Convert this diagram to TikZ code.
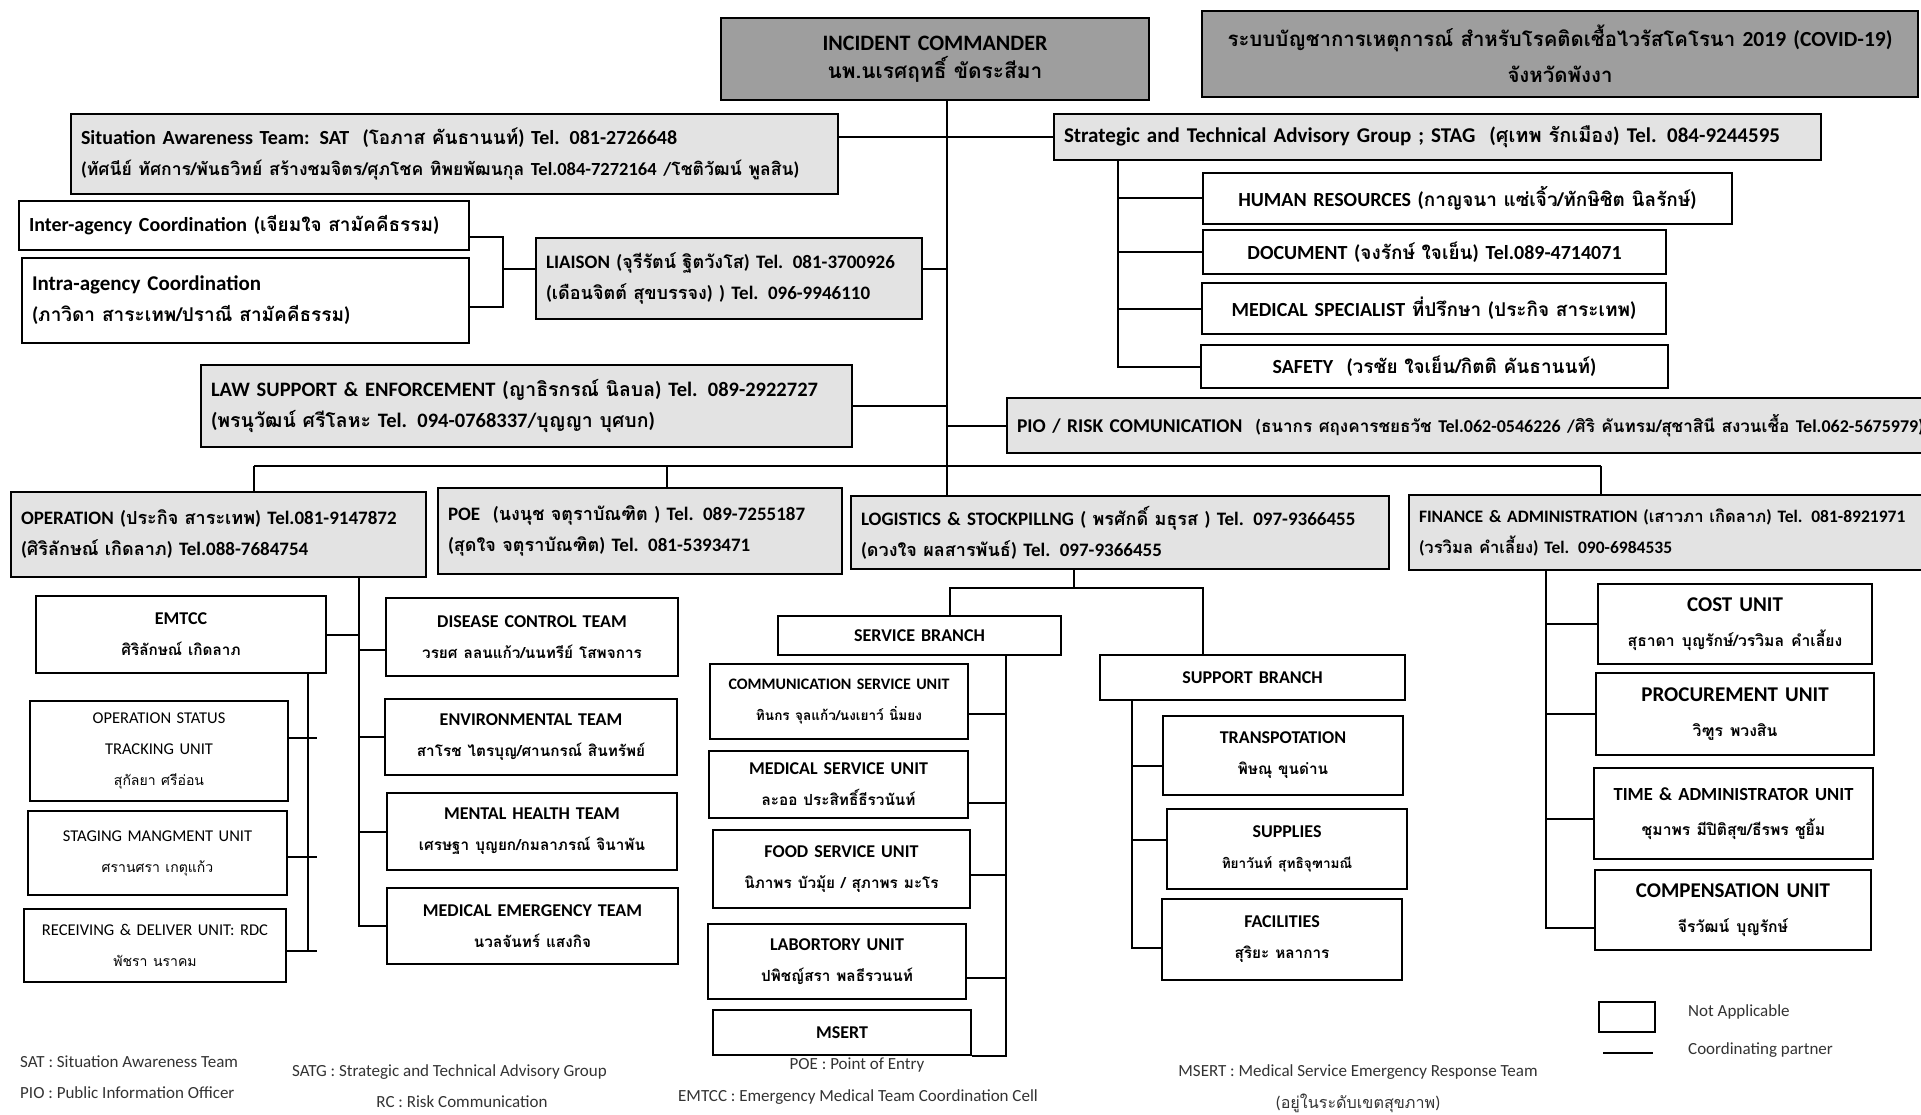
\documentclass[tikz,border=0pt]{standalone}
\usepackage{fontspec}
\setmainfont{Carlito}
\newfontfamily\thaifont[Script=Thai,Scale=0.95]{Loma}
\newfontfamily\thainame[Script=Thai,Scale=0.85]{Loma}
\newcommand{\tha}[1]{{\thaifont #1}}
\newcommand{\thn}[1]{{\thainame #1}}
\usetikzlibrary{calc,positioning}
\tikzset{boxwh/.code 2 args={\pgfmathsetmacro\boxtw{#1-20}\tikzset{minimum width=#1pt,minimum height=#2pt,text width=\boxtw pt}}}
\tikzstyle{orgbox}    = [draw, line width=2pt, anchor=north west, inner xsep=10pt, inner ysep=0pt]
\tikzstyle{headbox}   = [orgbox, fill=black!38, align=center, font=\fontsize{22}{28}\bfseries\selectfont]
\tikzstyle{groupbox}  = [orgbox, fill=black!11, align=left, font=\fontsize{19}{31}\bfseries\selectfont]
\tikzstyle{staffbox}  = [orgbox, fill=white, align=center, font=\fontsize{20}{31}\bfseries\selectfont]
\tikzstyle{unitbox}   = [orgbox, fill=white, align=center, font=\fontsize{18}{31}\bfseries\selectfont]
\tikzstyle{lightbox}  = [orgbox, fill=white, align=center, font=\fontsize{16.5}{31}\selectfont]
\tikzstyle{finbox}    = [orgbox, fill=white, align=center, font=\fontsize{21}{35}\bfseries\selectfont]
\tikzstyle{link}      = [line width=2pt]
\tikzstyle{note}      = [font=\fontsize{17}{22}\selectfont, text=black!80, inner sep=0pt]

\begin{document}
\begin{tikzpicture}[x=1pt,y=-1pt]
        \fill[white] (0,0) rectangle (1921,1115);
        \useasboundingbox (0,0) rectangle (1921,1115);

        \node[headbox,boxwh={428}{82}] (ic) at (720,17) {INCIDENT COMMANDER\\\tha{นพ.นเรศฤทธิ์ ขัดระสีมา}};
        \node[headbox,boxwh={716}{86},font=\fontsize{21.5}{36}\bfseries\selectfont] (title) at (1201,10) {\mbox{\tha{ระบบบัญชาการเหตุการณ์ สำหรับโรคติดเชื้อไวรัสโคโรนา} 2019 (COVID-19)}\\\tha{จังหวัดพังงา}};

        \node[groupbox,boxwh={767}{80},font=\fontsize{20}{31}\bfseries\selectfont] (sat) at (70,113) {Situation Awareness Team: SAT \ (\tha{โอภาส คันธานนท์}) Tel. 081-2726648\\\mbox{\fontsize{18.5}{31}\selectfont(\tha{ทัศนีย์ ทัศการ/พันธวิทย์ สร้างชมจิตร/ศุภโชค ทิพยพัฒนกุล} Tel.084-7272164 /\tha{โชติวัฒน์ พูลสิน})}};
        \node[groupbox,boxwh={767}{46},font=\fontsize{21}{31}\bfseries\selectfont] (stag) at (1053,113) {Strategic and Technical Advisory Group ; STAG \ (\tha{ศุเทพ รักเมือง}) Tel. 084-9244595};

        \node[staffbox,boxwh={529}{51}] (hr) at (1202,172) {HUMAN RESOURCES (\tha{กาญจนา แซ่เจิ้ว/ทักษิชิต นิลรักษ์})};
        \node[staffbox,boxwh={463}{44}] (doc) at (1202,229) {DOCUMENT (\tha{จงรักษ์ ใจเย็น}) Tel.089-4714071};
        \node[staffbox,boxwh={464}{51}] (medsp) at (1201,282) {MEDICAL SPECIALIST \tha{ที่ปรึกษา} (\tha{ประกิจ สาระเทพ})};
        \node[staffbox,boxwh={467}{43}] (safety) at (1200,344) {SAFETY \ (\tha{วรชัย ใจเย็น/กิตติ คันธานนท์})};
        \node[groupbox,boxwh={930}{55},font=\fontsize{19.5}{31}\bfseries\selectfont] (pio) at (1006,397) {\mbox{PIO / RISK COMUNICATION \ {\fontsize{18}{20}\selectfont(\tha{ธนากร ศฤงคารชยธวัช} Tel.062-0546226 /\tha{ศิริ คันทรม/สุชาสินี สงวนเชื้อ} Tel.062-5675979)}}};

        \node[staffbox,align=left,boxwh={450}{49}] (inter) at (18,200) {Inter-agency Coordination (\tha{เจียมใจ สามัคคีธรรม})};
        \node[staffbox,align=left,boxwh={447}{85},font=\fontsize{21}{31}\bfseries\selectfont] (intra) at (21,257) {Intra-agency Coordination\\{\fontsize{20}{31}\selectfont(\tha{ภาวิดา สาระเทพ/ปราณี สามัคคีธรรม})}};
        \node[groupbox,boxwh={386}{81}] (liaison) at (535,237) {\mbox{LIAISON (\tha{จุรีรัตน์ ฐิตวังโส}) Tel. 081-3700926}\\(\tha{เดือนจิตต์ สุขบรรจง}) ) Tel. 096-9946110};
        \node[groupbox,boxwh={651}{82},font=\fontsize{20.5}{31}\bfseries\selectfont] (law) at (200,364) {LAW SUPPORT \& ENFORCEMENT (\tha{ญาธิรกรณ์ นิลบล}) Tel. 089-2922727\\(\tha{พรนุวัฒน์ ศรีโลหะ} Tel. 094-0768337/\tha{บุญญา บุศบก})};

        \node[groupbox,boxwh={415}{85}] (op) at (10,491) {\mbox{OPERATION (\tha{ประกิจ สาระเทพ}) Tel.081-9147872}\\(\tha{ศิริลักษณ์ เกิดลาภ}) Tel.088-7684754};
        \node[groupbox,boxwh={404}{86}] (poe) at (437,487) {\mbox{POE \ (\tha{นงนุช จตุราบัณฑิต} ) Tel. 089-7255187}\\(\tha{สุดใจ จตุราบัณฑิต}) Tel. 081-5393471};
        \node[groupbox,boxwh={538}{73}] (log) at (850,495) {\mbox{LOGISTICS \& STOCKPILLNG ( \tha{พรศักดิ์ มธุรส} ) Tel. 097-9366455}\\(\tha{ดวงใจ ผลสารพันธ์}) Tel. 097-9366455};
        \node[groupbox,boxwh={520}{75},font=\fontsize{17.5}{31}\bfseries\selectfont] (fin) at (1408,494) {\mbox{FINANCE \& ADMINISTRATION (\tha{เสาวภา เกิดลาภ}) Tel. 081-8921971}\\(\tha{วรวิมล คำเลี้ยง}) Tel. 090-6984535};

        \node[unitbox,boxwh={290}{77}] (emtcc) at (35,595) {EMTCC\\\thn{ศิริลักษณ์ เกิดลาภ}};
        \node[lightbox,boxwh={258}{100}] (ost) at (29,700) {OPERATION STATUS\\TRACKING UNIT\\\thn{สุกัลยา ศรีอ่อน}};
        \node[lightbox,boxwh={259}{84}] (staging) at (27,810) {STAGING MANGMENT UNIT\\\thn{ศรานศรา เกตุแก้ว}};
        \node[lightbox,boxwh={262}{73}] (rdc) at (23,908) {RECEIVING \& DELIVER UNIT: RDC\\\thn{พัชรา นราคม}};
        \node[unitbox,boxwh={292}{78}] (dc) at (385,597) {DISEASE CONTROL TEAM\\\thn{วรยศ ลลนแก้ว/นนทรีย์ โสพจการ}};
        \node[unitbox,boxwh={292}{76}] (env) at (384,698) {ENVIRONMENTAL TEAM\\\thn{สาโรช ไตรบุญ/ศานกรณ์ สินทรัพย์}};
        \node[unitbox,boxwh={290}{77}] (mh) at (386,792) {MENTAL HEALTH TEAM\\\thn{เศรษฐา บุญยก/กมลาภรณ์ จินาพัน}};
        \node[unitbox,boxwh={291}{76}] (me) at (386,887) {MEDICAL EMERGENCY TEAM\\\thn{นวลจันทร์ แสงกิจ}};

        \node[unitbox,boxwh={283}{39}] (servb) at (777,615) {SERVICE BRANCH};
        \node[unitbox,boxwh={305}{45}] (supb) at (1099,654) {SUPPORT BRANCH};
        \node[unitbox,boxwh={258}{75},font=\fontsize{16}{31}\bfseries\selectfont] (comm) at (709,663) {COMMUNICATION SERVICE UNIT\\\thn{ทินกร จุลแก้ว/นงเยาว์ นิ่มยง}};
        \node[unitbox,boxwh={259}{67}] (medsu) at (708,750) {MEDICAL SERVICE UNIT\\\thn{ละออ ประสิทธิ์ธีรวนันท์}};
        \node[unitbox,boxwh={257}{78}] (food) at (712,829) {FOOD SERVICE UNIT\\\thn{นิภาพร บัวมุ้ย / สุภาพร มะโร}};
        \node[unitbox,boxwh={258}{75}] (lab) at (707,923) {LABORTORY UNIT\\\thn{ปพิชญ์สรา พลธีรวนนท์}};
        \node[unitbox,boxwh={258}{45}] (msert) at (712,1009) {MSERT};
        \node[unitbox,boxwh={240}{79}] (trans) at (1162,715) {TRANSPOTATION\\\thn{พิษณุ ขุนด่าน}};
        \node[unitbox,boxwh={240}{80}] (supp) at (1166,808) {SUPPLIES\\{\fontsize{16}{31}\selectfont\thn{ทิยาวันท์ สุทธิจุฑามณี}}};
        \node[unitbox,boxwh={240}{81}] (fac) at (1161,898) {FACILITIES\\\thn{สุริยะ หลาการ}};

        \node[finbox,boxwh={274}{80}] (cost) at (1597,583) {COST UNIT\\{\fontsize{18.5}{35}\selectfont\thn{สุธาดา บุญรักษ์/วรวิมล คำเลี้ยง}}};
        \node[finbox,boxwh={278}{82}] (proc) at (1595,672) {PROCUREMENT UNIT\\{\fontsize{18.5}{35}\selectfont\thn{วิฑูร พวงสิน}}};
        \node[finbox,boxwh={279}{91},font=\fontsize{18.5}{35}\bfseries\selectfont] (time) at (1593,767) {TIME \& ADMINISTRATOR UNIT\\\thn{ชุมาพร มีปิติสุข/ธีรพร ชูยิ้ม}};
        \node[finbox,boxwh={276}{80}] (comp) at (1594,869) {COMPENSATION UNIT\\{\fontsize{18.5}{35}\selectfont\thn{จีรวัฒน์ บุญรักษ์}}};

        % command line
        \coordinate (trunk) at (947,0);
        \draw[link] (ic.south -| trunk) -- (log.north -| trunk);
        \draw[link] (sat.east |- stag.west) -- (stag.west);
        \coordinate (lkliaison) at ([yshift=9pt]liaison.east);
        \draw[link] (lkliaison) -- (lkliaison -| trunk);
        \draw[link] (law.east) -- (law.east -| trunk);
        \draw[link] (pio.west) -- (pio.west -| trunk);

        \coordinate (brk) at (503,0);
        \coordinate (lkinter) at ([yshift=-12pt]inter.east);
        \coordinate (lkintra) at ([yshift=-6pt]intra.east);
        \coordinate (lkliaisonw) at ([yshift=9pt]liaison.west);
        \draw[link] (lkinter) -| (lkintra -| brk) -- (lkintra);
        \draw[link] (lkliaisonw -| brk) -- (lkliaisonw);

        \coordinate (sv) at (1118,0);
        \draw[link] (stag.south -| sv) |- (safety.west);
        \foreach \n in {hr,doc,medsp}
            \draw[link] (\n.west -| sv) -- (\n.west);

        % sections
        \coordinate (bopn) at (254,466);
        \coordinate (bpoe) at (667,466);
        \coordinate (bfin) at (1601,466);
        \draw[link] (bopn) -- (bfin);
        \draw[link] (bopn) -- (bopn |- op.north);
        \draw[link] (bpoe) -- (bpoe |- poe.north);
        \draw[link] (bfin) -- (bfin |- fin.north);

        \coordinate (ov) at (359,0);
        \coordinate (lkdc) at ([yshift=-13pt]dc.west);
        \draw[link] (op.south -| ov) |- (me.west);
        \draw[link] (emtcc.east) -- (emtcc.east -| ov);
        \draw[link] (lkdc -| ov) -- (lkdc);
        \foreach \n in {env,mh}
            \draw[link] (\n.west -| ov) -- (\n.west);

        \coordinate (ev) at (308,0);
        \coordinate (evr) at (317,0);
        \foreach \n/\s in {ost/13,staging/-4,rdc/-5}
            \coordinate (lk\n) at ([yshift=\s pt]\n.east);
        \draw[link] (emtcc.south -| ev) -- (lkrdc -| ev);
        \foreach \n in {ost,staging,rdc}
            \draw[link] (lk\n) -- (lk\n -| evr);

        \coordinate (lj) at (1074,588);
        \coordinate (sj) at (950,588);
        \coordinate (pj) at (1203,588);
        \draw[link] (log.south -| lj) -- (lj);
        \draw[link] (sj |- servb.north) -- (sj) -- (pj) -- (pj |- supb.north);

        \coordinate (svv) at (1006,0);
        \draw[link] (servb.south -| svv) |- (msert.south east);
        \foreach \n/\s in {comm/-12,medsu/-18,food/-6,lab/-16}{
            \coordinate (lk\n) at ([yshift=\s pt]\n.east);
            \draw[link] (lk\n) -- (lk\n -| svv);
        }

        \coordinate (spv) at (1132,0);
        \foreach \n/\s in {trans/-10,supp/9,fac/-8}
            \coordinate (lk\n) at ([yshift=\s pt]\n.west);
        \draw[link] (supb.south -| spv) |- (lkfac);
        \foreach \n in {trans,supp}
            \draw[link] (lk\n -| spv) -- (lk\n);

        \coordinate (fv) at (1546,0);
        \foreach \n/\s in {cost/0,proc/0,time/-5,comp/-18}
            \coordinate (lk\n) at ([yshift=\s pt]\n.west);
        \draw[link] (fin.south -| fv) |- (lkcomp);
        \foreach \n in {cost,proc,time}
            \draw[link] (lk\n -| fv) -- (lk\n);

        % legend and notes
        \node[draw, line width=2pt, minimum width=56pt, minimum height=30pt, anchor=north west, inner sep=0pt] (lgbox) at (1598,1001) {};
        \node[note, anchor=west] (lgna) at (1688,1012) {Not Applicable};
        \coordinate (lgl) at (1603,1053);
        \coordinate (lgr) at (1653,1053);
        \draw[line width=2pt] (lgl) -- (lgr);
        \node[note, anchor=west] (lgcp) at (1688,1050) {Coordinating partner};

        \node[note, anchor=west] (fsat) at (20,1062) {SAT : Situation Awareness Team};
        \node[note, anchor=west] (fpio) at (20,1093) {PIO : Public Information Officer};
        \node[note, anchor=west] (fsatg) at (292,1072) {SATG : Strategic and Technical Advisory Group};
        \node[note] (frc) at (462,1102) {RC : Risk Communication};
        \node[note] (fpoe) at (857,1065) {POE : Point of Entry};
        \node[note] (femtcc) at (858,1097) {EMTCC : Emergency Medical Team Coordination Cell};
        \node[note] (fmsert) at (1358,1072) {MSERT : Medical Service Emergency Response Team};
        \node[note] (fmsertb) at (1358,1103) {(\tha{อยู่ในระดับเขตสุขภาพ})};
\end{tikzpicture}
\end{document}
